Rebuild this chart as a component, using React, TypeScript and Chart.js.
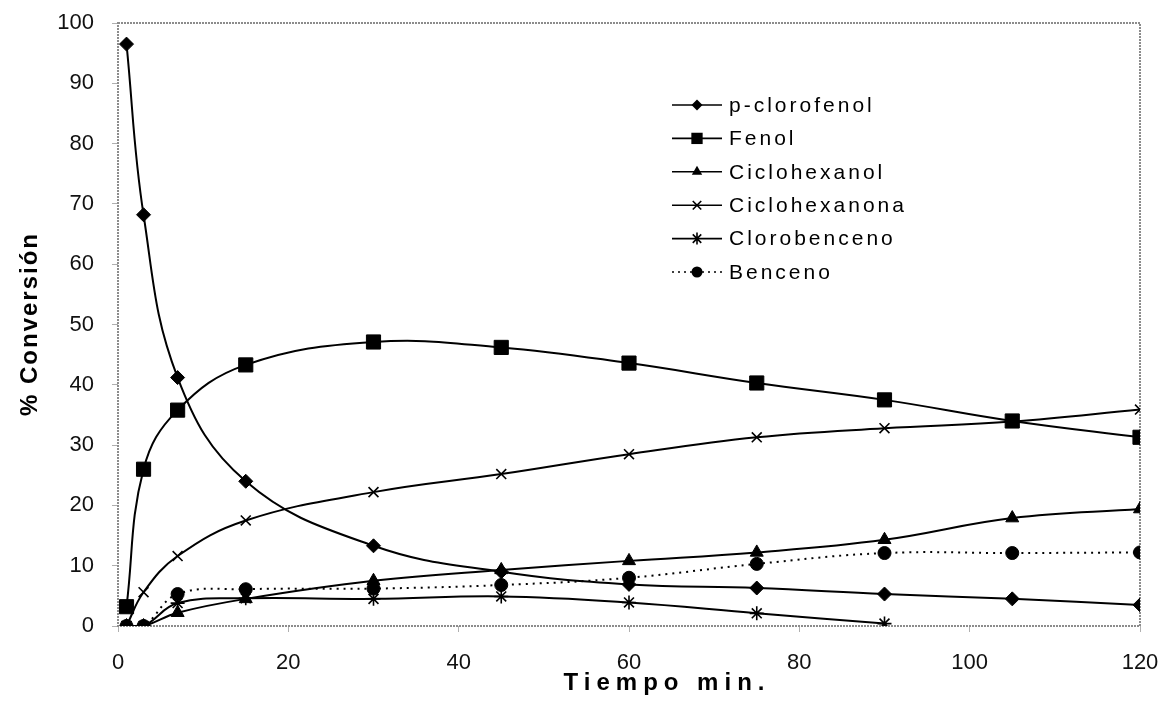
import React, { useEffect, useRef } from "react";
import { Chart, registerables } from "chart.js";

Chart.register(...registerables);

const times = [1, 3, 7, 15, 30, 45, 60, 75, 90, 105, 120];
const pClorofenol = [96.5, 68.2, 41.2, 24.0, 13.3, 9.0, 6.9, 6.3, 5.3, 4.5, 3.5];
const fenol = [3.2, 26.0, 35.8, 43.3, 47.1, 46.2, 43.6, 40.3, 37.5, 34.0, 31.3];
const ciclohexanol = [0, 0, 2.2, 4.5, 7.5, 9.3, 10.8, 12.2, 14.3, 17.9, 19.4];
const ciclohexanona = [0, 5.6, 11.6, 17.5, 22.2, 25.2, 28.5, 31.3, 32.8, 33.9, 35.9];
const clorobenceno = [0, 0, 3.8, 4.6, 4.5, 4.9, 3.9, 2.1, 0.4, null, null];
const benceno = [0, 0, 5.3, 6.1, 6.2, 6.8, 8.0, 10.3, 12.1, 12.1, 12.2];

const seriesNames = ["p-clorofenol", "Fenol", "Ciclohexanol", "Ciclohexanona", "Clorobenceno", "Benceno"];
const seriesValues = [pClorofenol, fenol, ciclohexanol, ciclohexanona, clorobenceno, benceno];
const seriesMarkers = ["rectRot", "rect", "triangle", "crossRot", "star", "circle"];
const seriesRadius = [7, 10, 7.5, 7, 7, 6.5];
const legendRadius = [5.5, 8, 6, 6, 6, 5.5];
const seriesDashed = [false, false, false, false, false, true];

const xTicks = [0, 20, 40, 60, 80, 100, 120];
const yTicks = [0, 10, 20, 30, 40, 50, 60, 70, 80, 90, 100];

const FONT = '"Liberation Sans", Arial, sans-serif';

function drawMarker(ctx: CanvasRenderingContext2D, style: string, x: number, y: number, r: number) {
  ctx.save();
  ctx.fillStyle = "#000";
  ctx.strokeStyle = "#000";
  ctx.lineWidth = 1.6;
  ctx.setLineDash([]);
  ctx.beginPath();
  if (style === "rectRot") {
    ctx.moveTo(x - r, y);
    ctx.lineTo(x, y - r);
    ctx.lineTo(x + r, y);
    ctx.lineTo(x, y + r);
    ctx.closePath();
    ctx.fill();
  } else if (style === "rect") {
    const s = r * Math.SQRT1_2;
    ctx.rect(x - s, y - s, 2 * s, 2 * s);
    ctx.fill();
  } else if (style === "triangle") {
    for (let i = 0; i < 3; i++) {
      const a = (i * 2 * Math.PI) / 3;
      const px = x + Math.sin(a) * r;
      const py = y - Math.cos(a) * r;
      if (i === 0) ctx.moveTo(px, py);
      else ctx.lineTo(px, py);
    }
    ctx.closePath();
    ctx.fill();
  } else if (style === "crossRot" || style === "star") {
    const d = r * Math.SQRT1_2;
    ctx.moveTo(x - d, y - d);
    ctx.lineTo(x + d, y + d);
    ctx.moveTo(x - d, y + d);
    ctx.lineTo(x + d, y - d);
    if (style === "star") {
      ctx.moveTo(x, y - r);
      ctx.lineTo(x, y + r);
    }
    ctx.stroke();
  } else {
    ctx.arc(x, y, r, 0, Math.PI * 2);
    ctx.fill();
  }
  ctx.restore();
}

function spacedText(ctx: CanvasRenderingContext2D, text: string, cx: number, cy: number, spacing: number) {
  (ctx as any).letterSpacing = spacing + "px";
  const w = ctx.measureText(text).width;
  ctx.textAlign = "left";
  ctx.textBaseline = "middle";
  ctx.fillText(text, cx - (w - spacing) / 2, cy);
  (ctx as any).letterSpacing = "0px";
}

const decorPlugin = {
  id: "decor",
  beforeDatasetsDraw(chart: any) {
    const { ctx, chartArea } = chart;
    const { left, right, top, bottom } = chartArea;
    ctx.save();
    ctx.strokeStyle = "#8c8c8c";
    ctx.lineWidth = 2;
    ctx.setLineDash([2, 1]);
    ctx.strokeRect(left, top, right - left, bottom - top);
    ctx.restore();
  },
  afterDraw(chart: any) {
    const { ctx } = chart;
    ctx.save();
    ctx.fillStyle = "#000";
    ctx.font = `bold 24px ${FONT}`;
    spacedText(ctx, "Tiempo min.", 664, 683, 6);
    ctx.save();
    ctx.translate(30, 325);
    ctx.rotate(-Math.PI / 2);
    ctx.font = `bold 24px ${FONT}`;
    spacedText(ctx, "% Conversión", 0, 0, 2);
    ctx.restore();
    for (let i = 0; i < seriesNames.length; i++) {
      const y = 105 + i * 33.4;
      ctx.save();
      ctx.strokeStyle = "#000";
      ctx.lineWidth = 1.6;
      ctx.setLineDash(seriesDashed[i] ? [2, 4] : []);
      ctx.beginPath();
      ctx.moveTo(672, y);
      ctx.lineTo(722, y);
      ctx.stroke();
      ctx.restore();
      drawMarker(ctx, seriesMarkers[i], 697, y, legendRadius[i]);
      ctx.font = `21px ${FONT}`;
      ctx.fillStyle = "#000";
      ctx.textAlign = "left";
      ctx.textBaseline = "middle";
      (ctx as any).letterSpacing = "3px";
      ctx.fillText(seriesNames[i], 729, y + 1);
      (ctx as any).letterSpacing = "0px";
    }
    ctx.restore();
  },
};

export default function App() {
  const ref = useRef<HTMLCanvasElement | null>(null);

  useEffect(() => {
    if (!ref.current) return;
    const datasets = seriesNames.map((name, i) => ({
      label: name,
      data: times.map((t, j) => ({ x: t, y: seriesValues[i][j] })),
      borderColor: "#000",
      backgroundColor: "#000",
      borderWidth: 2,
      borderDash: seriesDashed[i] ? [2, 5] : [],
      pointStyle: seriesMarkers[i] as any,
      pointRadius: seriesRadius[i],
      pointBorderWidth: seriesMarkers[i] === "crossRot" || seriesMarkers[i] === "star" ? 1.6 : 1,
      pointBorderColor: "#000",
      pointBackgroundColor: "#000",
      tension: 0.4,
      fill: false,
      spanGaps: false,
    }));

    const chart = new Chart(ref.current, {
      type: "line",
      data: { datasets },
      plugins: [decorPlugin],
      options: {
        responsive: false,
        animation: false,
        devicePixelRatio: 1,
        layout: { padding: { left: 0, top: 23, right: 24, bottom: 0 } },
        plugins: { legend: { display: false }, tooltip: { enabled: false } },
        scales: {
          x: {
            type: "linear",
            min: 0,
            max: 120,
            afterBuildTicks: (scale: any) => {
              scale.ticks = xTicks.map((v) => ({ value: v }));
            },
            afterFit: (scale: any) => {
              scale.height = 81;
              scale.paddingLeft = 0;
              scale.paddingRight = 0;
            },
            ticks: {
              color: "#111",
              font: { family: FONT, size: 22 },
              padding: 18,
              maxRotation: 0,
            },
            grid: { drawOnChartArea: false, drawTicks: true, tickLength: 6, color: "#b0b0b0" },
            border: { display: false },
          },
          y: {
            type: "linear",
            min: 0,
            max: 100,
            afterBuildTicks: (scale: any) => {
              scale.ticks = yTicks.map((v) => ({ value: v }));
            },
            afterFit: (scale: any) => {
              scale.width = 118;
              scale.paddingTop = 0;
              scale.paddingBottom = 0;
            },
            ticks: {
              color: "#111",
              font: { family: FONT, size: 22 },
              padding: 18,
            },
            grid: { drawOnChartArea: false, drawTicks: true, tickLength: 6, color: "#b0b0b0" },
            border: { display: false },
          },
        },
      },
    });
    return () => chart.destroy();
  }, []);

  return (
    <div style={{ position: "fixed", left: 0, top: 0, width: 1164, height: 707, background: "#fff" }}>
      <canvas ref={ref} width={1164} height={707} style={{ display: "block" }} />
    </div>
  );
}
